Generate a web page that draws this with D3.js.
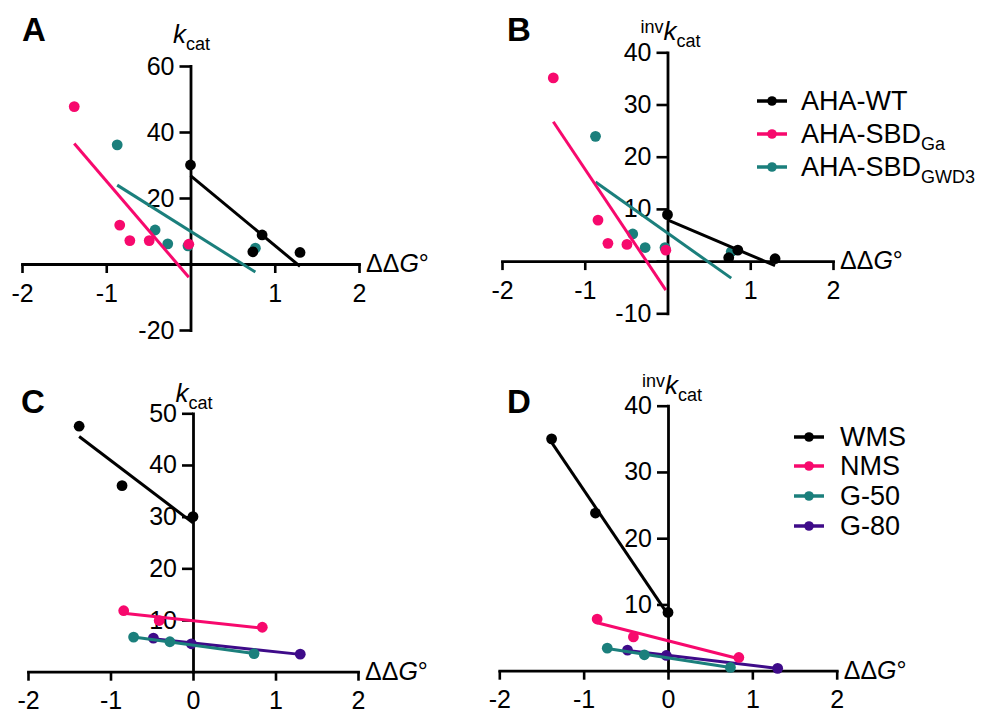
<!DOCTYPE html>
<html>
<head>
<meta charset="utf-8">
<script src="https://cdn.jsdelivr.net/npm/d3@7"></script>
<style>
  body { margin: 0; background: #fff; }
  svg { display: block; }
  text { font-family: "Liberation Sans", Arial, Helvetica, sans-serif; fill: #000; }
</style>
</head>
<body>
<svg id="chart" width="983" height="713"></svg>
<script>
// ---- Data: enzymes (panels A and B) ----
const wtDG       = [0.00, 0.74, 0.85, 1.30];
const wtKcat     = [30.0, 3.7, 8.8, 3.5];
const wtInvKcat  = [8.9, 0.65, 2.1, 0.46];

const gaDG       = [-1.38, -0.84, -0.72, -0.49, -0.02];
const gaKcat     = [47.7, 11.8, 7.1, 7.1, 6.0];
const gaInvKcat  = [35.1, 7.85, 3.4, 3.2, 2.1];

const gwdDG      = [-0.87, -0.42, -0.27, -0.03, 0.77];
const gwdKcat    = [36.1, 10.3, 6.1, 5.5, 4.8];
const gwdInvKcat = [23.9, 5.2, 2.6, 2.6, 1.8];

// ---- Data: substrates (panels C and D) ----
const wmsDG      = [-1.38, -0.86, 0.00];
const wmsKcat    = [47.5, 36.0, 30.0];
const wmsInvKcat = [35.0, 23.8, 8.8];

const nmsDG      = [-0.84, -0.41, 0.84];
const nmsKcat    = [11.8, 9.9, 8.6];
const nmsInvKcat = [7.8, 5.1, 2.0];

const g50DG      = [-0.72, -0.28, 0.74];
const g50Kcat    = [6.7, 5.8, 3.5];
const g50InvKcat = [3.4, 2.4, 0.5];

const g80DG      = [-0.48, -0.02, 1.30];
const g80Kcat    = [6.5, 5.4, 3.4];
const g80InvKcat = [3.1, 2.3, 0.36];

// ---- Names and tick labels ----
const enzymeNames    = [["AHA-WT", ""], ["AHA-SBD", "Ga"], ["AHA-SBD", "GWD3"]];
const substrateNames = ["WMS", "NMS", "G-50", "G-80"];
const xTicksAB = [-2, -1, 1, 2];
const xTicksCD = [-2, -1, 0, 1, 2];
const yTicksA  = [60, 40, 20, 0, -20];
const yTicksB  = [40, 30, 20, 10, 0, -10];
const yTicksC  = [50, 40, 30, 20, 10];
const yTicksD  = [40, 30, 20, 10];

const BLACK = "#000000", PINK = "#f7096d", TEAL = "#1b7f7c", PURPLE = "#3e0b89";

const zip = (xs, ys) => xs.map((x, i) => ({ x, y: ys[i] }));

const panels = [
  { letter: "A", lx: 22, ly: 41, xr: [22, 359], yr: [330, 66], yd: [-20, 60],
    xTicks: xTicksAB, yTicks: yTicksA, inv: false, labelY: 43, labelDx: 1,
    series: [
      { c: BLACK, pts: zip(wtDG, wtKcat) },
      { c: PINK,  pts: zip(gaDG, gaKcat) },
      { c: TEAL,  pts: zip(gwdDG, gwdKcat) } ] },
  { letter: "B", lx: 507, ly: 41, xr: [502, 833], yr: [313.3, 52.3], yd: [-10, 40],
    xTicks: xTicksAB, yTicks: yTicksB, inv: true, labelY: 40, labelDx: 3,
    series: [
      { c: BLACK, pts: zip(wtDG, wtInvKcat) },
      { c: PINK,  pts: zip(gaDG, gaInvKcat) },
      { c: TEAL,  pts: zip(gwdDG, gwdInvKcat) } ],
    legend: { x: 757, tx: 801, rows: [101, 134, 167], names: enzymeNames, colors: [BLACK, PINK, TEAL] } },
  { letter: "C", lx: 21, ly: 413, xr: [28, 358], yr: [671.7, 413.3], yd: [0, 50],
    xTicks: xTicksCD, yTicks: yTicksC, inv: false, labelY: 402, labelDx: 1,
    series: [
      { c: BLACK,  pts: zip(wmsDG, wmsKcat) },
      { c: PINK,   pts: zip(nmsDG, nmsKcat) },
      { c: TEAL,   pts: zip(g50DG, g50Kcat) },
      { c: PURPLE, pts: zip(g80DG, g80Kcat) } ] },
  { letter: "D", lx: 507, ly: 413, xr: [499.3, 836.7], yr: [670.7, 405.7], yd: [0, 40],
    xTicks: xTicksCD, yTicks: yTicksD, inv: true, labelY: 394, labelDx: 4,
    series: [
      { c: BLACK,  pts: zip(wmsDG, wmsInvKcat) },
      { c: PINK,   pts: zip(nmsDG, nmsInvKcat) },
      { c: TEAL,   pts: zip(g50DG, g50InvKcat) },
      { c: PURPLE, pts: zip(g80DG, g80InvKcat) } ],
    legend: { x: 794, tx: 840, rows: [437, 466, 496, 526], names: substrateNames.map(n => [n, ""]),
              colors: [BLACK, PINK, TEAL, PURPLE] } }
];

// least-squares line over the x range of a series
function fit(pts) {
  const mx = d3.mean(pts, d => d.x), my = d3.mean(pts, d => d.y);
  const sxy = d3.sum(pts, d => (d.x - mx) * (d.y - my));
  const sxx = d3.sum(pts, d => (d.x - mx) ** 2);
  const b = sxy / sxx, a = my - b * mx;
  const [x0, x1] = d3.extent(pts, d => d.x);
  return [{ x: x0, y: a + b * x0 }, { x: x1, y: a + b * x1 }];
}

const svg = d3.select("#chart");
const tickLabel = v => String(v).replace("\u2212", "-");

panels.forEach(p => {
  const x = d3.scaleLinear().domain([-2, 2]).range(p.xr);
  const y = d3.scaleLinear().domain(p.yd).range(p.yr);
  const g = svg.append("g");
  const x0 = x(0), y0 = y(0);

  // x axis through y = 0
  const xa = g.append("g").attr("transform", `translate(0,${y0})`)
    .call(d3.axisBottom(x).tickValues(p.xTicks).tickSize(9).tickSizeOuter(0).tickPadding(11)
      .tickFormat(tickLabel));
  // y axis through x = 0
  const ya = g.append("g").attr("transform", `translate(${x0},0)`)
    .call(d3.axisLeft(y).tickValues(p.yTicks).tickSize(11).tickSizeOuter(0).tickPadding(5)
      .tickFormat(v => v === 0 ? "" : tickLabel(v)));
  [xa, ya].forEach(a => {
    a.selectAll("path.domain").attr("stroke", "#000").attr("stroke-width", 2.8).attr("stroke-linecap", "square");
    a.selectAll(".tick line").attr("stroke", "#000").attr("stroke-width", 2.6);
    a.selectAll(".tick text").attr("font-size", 25).attr("fill", "#000")
      .style("font-family", '"Liberation Sans", Arial, sans-serif');
  });

  // axis titles
  const xt = g.append("text").attr("x", p.xr[1] + 7).attr("y", y0 + 8).attr("font-size", 25);
  xt.append("tspan").text("\u0394\u0394");
  xt.append("tspan").attr("font-style", "italic").text("G");
  xt.append("tspan").text("\u00b0");

  const yt = g.append("text").attr("x", x0 + p.labelDx).attr("y", p.labelY).attr("text-anchor", "middle").attr("font-size", 26);
  if (p.inv) yt.append("tspan").attr("font-size", 18).attr("dy", -7).text("inv");
  yt.append("tspan").attr("font-style", "italic").attr("dy", p.inv ? 7 : 0).text("k");
  yt.append("tspan").attr("font-size", 18).attr("dy", 7).text("cat");

  // panel letter
  g.append("text").attr("x", p.lx).attr("y", p.ly).attr("font-size", 33).attr("font-weight", "bold").text(p.letter);

  // series: drawn last-first so the first sits on top
  const line = d3.line().x(d => x(d.x)).y(d => y(d.y));
  p.series.slice().reverse().forEach(s => {
    g.append("path").attr("d", line(fit(s.pts))).attr("fill", "none")
      .attr("stroke", s.c).attr("stroke-width", 3);
    g.selectAll(null).data(s.pts).enter().append("circle")
      .attr("cx", d => x(d.x)).attr("cy", d => y(d.y)).attr("r", 5.4).attr("fill", s.c);
  });

  // legend
  if (p.legend) {
    const L = p.legend;
    L.rows.forEach((ry, i) => {
      g.append("line").attr("x1", L.x).attr("x2", L.x + 30).attr("y1", ry).attr("y2", ry)
        .attr("stroke", L.colors[i]).attr("stroke-width", 3.5);
      g.append("circle").attr("cx", L.x + 15).attr("cy", ry).attr("r", 4.8).attr("fill", L.colors[i]);
      const t = g.append("text").attr("x", L.tx).attr("y", ry).attr("dy", "0.35em").attr("font-size", 27);
      t.append("tspan").text(L.names[i][0]);
      if (L.names[i][1]) t.append("tspan").attr("font-size", 18).attr("dy", 7).text(L.names[i][1]);
    });
  }
});
</script>
</body>
</html>
